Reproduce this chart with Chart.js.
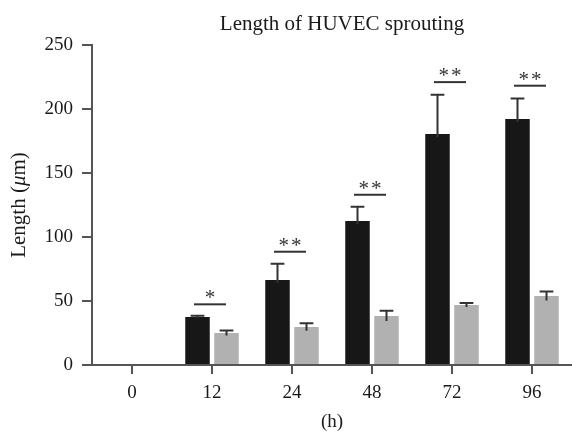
<!DOCTYPE html>
<html>
<head>
<meta charset="utf-8">
<script src="https://cdn.jsdelivr.net/npm/chart.js@4"></script>
<style>
  html, body { margin: 0; padding: 0; background: #fff; }
</style>
</head>
<body>
<canvas id="sprouting" width="572" height="437"></canvas>
<script>
const hours = ['0', '12', '24', '48', '72', '96'];
const lengthBlack = [0, 37.5, 66.4, 112.5, 180.5, 192.2];
const errBlack = [0, 1, 12.7, 11.2, 30.7, 16];
const lengthGray = [0, 25, 29.7, 38.3, 46.9, 53.9];
const errGray = [0, 2, 3, 4, 1.5, 3.5];
const sigMarks = ['', '*', '**', '**', '**', '**'];
const sigLevel = [null, 47.4, 88.5, 133, 221, 218.2];

const serif = "'Liberation Serif', 'DejaVu Serif', serif";
const axisColor = '#555';

// error bars: cap on top, stem dips a little into the bar
const errorBars = {
  id: 'errorBars',
  afterDatasetsDraw(chart) {
    const y = chart.scales.y;
    const ctx = chart.ctx;
    const errs = [errBlack, errGray];
    ctx.save();
    ctx.strokeStyle = '#333';
    ctx.lineWidth = 2;
    chart.data.datasets.forEach((ds, i) => {
      chart.getDatasetMeta(i).data.forEach((bar, j) => {
        const v = ds.data[j], e = errs[i][j];
        if (!v) return;
        const top = y.getPixelForValue(v + e);
        const bot = Math.min(y.getPixelForValue(v - e), bar.y + (i === 0 ? 3 : 5));
        const cap = bar.width * 0.28;
        ctx.beginPath();
        ctx.moveTo(bar.x, bot);
        ctx.lineTo(bar.x, top);
        ctx.moveTo(bar.x - cap, top);
        ctx.lineTo(bar.x + cap, top);
        ctx.stroke();
      });
    });
    ctx.restore();
  }
};

const significance = {
  id: 'significance',
  afterDatasetsDraw(chart) {
    const x = chart.scales.x, y = chart.scales.y;
    const ctx = chart.ctx;
    const half = x.width / hours.length * 0.2;
    ctx.save();
    ctx.strokeStyle = '#333';
    ctx.fillStyle = '#333';
    ctx.lineWidth = 2;
    ctx.font = '21px ' + serif;
    ctx.letterSpacing = '2px';
    ctx.textAlign = 'center';
    ctx.textBaseline = 'alphabetic';
    sigLevel.forEach((lvl, j) => {
      if (lvl == null) return;
      const cx = x.getPixelForValue(j) - 2;
      const py = y.getPixelForValue(lvl);
      ctx.beginPath();
      ctx.moveTo(cx - half, py);
      ctx.lineTo(cx + half, py);
      ctx.stroke();
      ctx.fillText(sigMarks[j], cx + 1, py);
    });
    ctx.restore();
  }
};

const labels = {
  id: 'labels',
  afterDraw(chart) {
    const ctx = chart.ctx;
    const area = chart.chartArea;
    ctx.save();
    ctx.fillStyle = '#1a1a1a';
    ctx.textBaseline = 'middle';
    ctx.textAlign = 'center';
    ctx.font = '21px ' + serif;
    ctx.fillText('Length of HUVEC sprouting', (area.left + area.right) / 2 + 10, 24);

    // y axis title with italic mu
    const parts = [['Length (', 'normal'], ['\u03bc', 'italic'], ['m)', 'normal']];
    let total = 0;
    parts.forEach(p => { ctx.font = p[1] + ' 21px ' + serif; total += ctx.measureText(p[0]).width; });
    ctx.translate(19, (area.top + area.bottom) / 2);
    ctx.rotate(-Math.PI / 2);
    ctx.textAlign = 'left';
    let px = -total / 2;
    parts.forEach(p => {
      ctx.font = p[1] + ' 21px ' + serif;
      ctx.fillText(p[0], px, 0);
      px += ctx.measureText(p[0]).width;
    });
    ctx.restore();
  }
};

new Chart(document.getElementById('sprouting'), {
  type: 'bar',
  data: {
    labels: hours,
    datasets: [{
      label: 'Group 1',
      data: lengthBlack,
      backgroundColor: '#181717',
      borderWidth: 0
    }, {
      label: 'Group 2',
      data: lengthGray,
      backgroundColor: '#b1b1b1',
      borderWidth: 0
    }]
  },
  options: {
    responsive: false,
    animation: false,
    devicePixelRatio: 1,
    categoryPercentage: 0.725,
    barPercentage: 0.845,
    layout: { padding: { top: 45, right: 0, left: 0, bottom: 0 } },
    plugins: {
      legend: { display: false },
      tooltip: { enabled: false }
    },
    scales: {
      x: {
        afterFit(s) { s.height = 72; },
        grid: {
          offset: false,
          drawOnChartArea: false,
          drawTicks: true,
          tickLength: 9,
          color: axisColor,
          lineWidth: 2
        },
        border: { display: true, color: axisColor, width: 2 },
        ticks: { color: '#1a1a1a', padding: 8, font: { family: serif, size: 19 } },
        title: {
          display: true,
          text: '(h)',
          color: '#1a1a1a',
          padding: { top: 0, bottom: 4 },
          font: { family: serif, size: 19 }
        }
      },
      y: {
        min: 0,
        max: 250,
        afterFit(s) { s.width = 92; },
        grid: {
          drawOnChartArea: false,
          drawTicks: true,
          tickLength: 10,
          color: axisColor,
          lineWidth: 2
        },
        border: { display: true, color: axisColor, width: 2 },
        ticks: { stepSize: 50, color: '#1a1a1a', padding: 9, font: { family: serif, size: 19 } }
      }
    }
  },
  plugins: [errorBars, significance, labels]
});
</script>
</body>
</html>
